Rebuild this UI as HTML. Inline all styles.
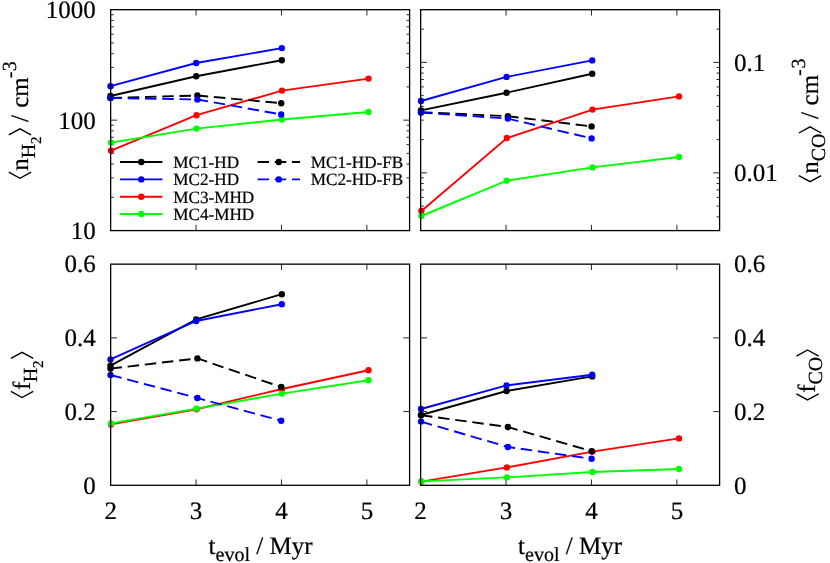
<!DOCTYPE html>
<html><head><meta charset="utf-8"><title>chart</title>
<style>html,body{margin:0;padding:0;background:#fff}svg{display:block}</style>
</head><body>
<svg width="830" height="563" viewBox="0 0 830 563" font-family="Liberation Serif, serif" text-rendering="geometricPrecision" style="will-change:transform">
<style>text{stroke:#000;stroke-width:0.22px}</style>
<rect width="830" height="563" fill="#fff"/>
<path d="M196.06 230.6v-5.8M196.06 9.7v5.8M281.48 230.6v-5.8M281.48 9.7v5.8M366.89 230.6v-5.8M366.89 9.7v5.8M110.65 120.15h6.3M409.6 120.15h-6.3M110.65 197.35h3.1M409.6 197.35h-3.1M110.65 177.90h3.1M409.6 177.90h-3.1M110.65 164.10h3.1M409.6 164.10h-3.1M110.65 153.40h3.1M409.6 153.40h-3.1M110.65 144.65h3.1M409.6 144.65h-3.1M110.65 137.26h3.1M409.6 137.26h-3.1M110.65 130.85h3.1M409.6 130.85h-3.1M110.65 125.20h3.1M409.6 125.20h-3.1M110.65 86.90h3.1M409.6 86.90h-3.1M110.65 67.45h3.1M409.6 67.45h-3.1M110.65 53.65h3.1M409.6 53.65h-3.1M110.65 42.95h3.1M409.6 42.95h-3.1M110.65 34.20h3.1M409.6 34.20h-3.1M110.65 26.81h3.1M409.6 26.81h-3.1M110.65 20.40h3.1M409.6 20.40h-3.1M110.65 14.75h3.1M409.6 14.75h-3.1" fill="none" stroke="#000" stroke-width="0.85"/>
<path d="M506.06 230.6v-5.8M506.06 9.7v5.8M591.48 230.6v-5.8M591.48 9.7v5.8M676.89 230.6v-5.8M676.89 9.7v5.8M420.65 62.40h6.3M719.6 62.40h-6.3M420.65 172.85h6.3M719.6 172.85h-6.3M420.65 29.15h3.1M719.6 29.15h-3.1M420.65 67.45h3.1M719.6 67.45h-3.1M420.65 73.10h3.1M719.6 73.10h-3.1M420.65 79.51h3.1M719.6 79.51h-3.1M420.65 86.90h3.1M719.6 86.90h-3.1M420.65 95.65h3.1M719.6 95.65h-3.1M420.65 106.35h3.1M719.6 106.35h-3.1M420.65 120.15h3.1M719.6 120.15h-3.1M420.65 139.60h3.1M719.6 139.60h-3.1M420.65 177.90h3.1M719.6 177.90h-3.1M420.65 183.55h3.1M719.6 183.55h-3.1M420.65 189.96h3.1M719.6 189.96h-3.1M420.65 197.35h3.1M719.6 197.35h-3.1M420.65 206.10h3.1M719.6 206.10h-3.1M420.65 216.80h3.1M719.6 216.80h-3.1" fill="none" stroke="#000" stroke-width="0.85"/>
<path d="M196.06 485.3v-5.8M196.06 264.15v5.8M281.48 485.3v-5.8M281.48 264.15v5.8M366.89 485.3v-5.8M366.89 264.15v5.8M110.65 411.58h6.3M409.6 411.58h-6.3M110.65 337.87h6.3M409.6 337.87h-6.3" fill="none" stroke="#000" stroke-width="0.85"/>
<path d="M506.06 485.3v-5.8M506.06 264.15v5.8M591.48 485.3v-5.8M591.48 264.15v5.8M676.89 485.3v-5.8M676.89 264.15v5.8M420.65 411.58h6.3M719.6 411.58h-6.3M420.65 337.87h6.3M719.6 337.87h-6.3" fill="none" stroke="#000" stroke-width="0.85"/>
<polyline points="110.5,96.0 196.2,76.2 281.8,60.2" fill="none" stroke="#000" stroke-width="1.9"/>
<circle cx="110.5" cy="96.0" r="3.2" fill="#000"/>
<circle cx="196.2" cy="76.2" r="3.2" fill="#000"/>
<circle cx="281.8" cy="60.2" r="3.2" fill="#000"/>
<polyline points="110.5,86.2 196.2,63.0 281.8,48.1" fill="none" stroke="#00f" stroke-width="1.9"/>
<circle cx="110.5" cy="86.2" r="3.2" fill="#00f"/>
<circle cx="196.2" cy="63.0" r="3.2" fill="#00f"/>
<circle cx="281.8" cy="48.1" r="3.2" fill="#00f"/>
<polyline points="111.0,150.6 196.5,115.2 282.0,90.6 368.5,78.6" fill="none" stroke="#f00" stroke-width="1.9"/>
<circle cx="111.0" cy="150.6" r="3.2" fill="#f00"/>
<circle cx="196.5" cy="115.2" r="3.2" fill="#f00"/>
<circle cx="282.0" cy="90.6" r="3.2" fill="#f00"/>
<circle cx="368.5" cy="78.6" r="3.2" fill="#f00"/>
<polyline points="111.0,142.6 196.5,128.6 282.0,119.5 368.5,112.0" fill="none" stroke="#0f0" stroke-width="1.9"/>
<circle cx="111.0" cy="142.6" r="3.2" fill="#0f0"/>
<circle cx="196.5" cy="128.6" r="3.2" fill="#0f0"/>
<circle cx="282.0" cy="119.5" r="3.2" fill="#0f0"/>
<circle cx="368.5" cy="112.0" r="3.2" fill="#0f0"/>
<polyline points="110.5,97.9 197.4,95.5 281.2,103.2" fill="none" stroke="#000" stroke-width="1.9" stroke-dasharray="11.5 5.75"/>
<circle cx="110.5" cy="97.9" r="3.2" fill="#000"/>
<circle cx="197.4" cy="95.5" r="3.2" fill="#000"/>
<circle cx="281.2" cy="103.2" r="3.2" fill="#000"/>
<polyline points="110.5,97.9 197.4,99.5 281.2,114.4" fill="none" stroke="#00f" stroke-width="1.9" stroke-dasharray="11.5 5.75"/>
<circle cx="110.5" cy="97.9" r="3.2" fill="#00f"/>
<circle cx="197.4" cy="99.5" r="3.2" fill="#00f"/>
<circle cx="281.2" cy="114.4" r="3.2" fill="#00f"/>
<polyline points="421.0,110.4 506.6,92.7 592.2,73.8" fill="none" stroke="#000" stroke-width="1.9"/>
<circle cx="421.0" cy="110.4" r="3.2" fill="#000"/>
<circle cx="506.6" cy="92.7" r="3.2" fill="#000"/>
<circle cx="592.2" cy="73.8" r="3.2" fill="#000"/>
<polyline points="421.0,101.0 506.6,76.9 592.2,60.4" fill="none" stroke="#00f" stroke-width="1.9"/>
<circle cx="421.0" cy="101.0" r="3.2" fill="#00f"/>
<circle cx="506.6" cy="76.9" r="3.2" fill="#00f"/>
<circle cx="592.2" cy="60.4" r="3.2" fill="#00f"/>
<polyline points="421.4,211.0 506.9,138.0 592.5,109.6 679.0,96.4" fill="none" stroke="#f00" stroke-width="1.9"/>
<circle cx="421.4" cy="211.0" r="3.2" fill="#f00"/>
<circle cx="506.9" cy="138.0" r="3.2" fill="#f00"/>
<circle cx="592.5" cy="109.6" r="3.2" fill="#f00"/>
<circle cx="679.0" cy="96.4" r="3.2" fill="#f00"/>
<polyline points="421.4,216.0 506.9,180.6 592.5,167.4 679.0,157.0" fill="none" stroke="#0f0" stroke-width="1.9"/>
<circle cx="421.4" cy="216.0" r="3.2" fill="#0f0"/>
<circle cx="506.9" cy="180.6" r="3.2" fill="#0f0"/>
<circle cx="592.5" cy="167.4" r="3.2" fill="#0f0"/>
<circle cx="679.0" cy="157.0" r="3.2" fill="#0f0"/>
<polyline points="421.0,112.2 507.9,116.2 591.6,126.4" fill="none" stroke="#000" stroke-width="1.9" stroke-dasharray="11.5 5.75"/>
<circle cx="421.0" cy="112.2" r="3.2" fill="#000"/>
<circle cx="507.9" cy="116.2" r="3.2" fill="#000"/>
<circle cx="591.6" cy="126.4" r="3.2" fill="#000"/>
<polyline points="421.0,112.6 507.9,118.6 591.6,138.4" fill="none" stroke="#00f" stroke-width="1.9" stroke-dasharray="11.5 5.75"/>
<circle cx="421.0" cy="112.6" r="3.2" fill="#00f"/>
<circle cx="507.9" cy="118.6" r="3.2" fill="#00f"/>
<circle cx="591.6" cy="138.4" r="3.2" fill="#00f"/>
<polyline points="110.5,365.6 196.2,319.4 281.8,294.2" fill="none" stroke="#000" stroke-width="1.9"/>
<circle cx="110.5" cy="365.6" r="3.2" fill="#000"/>
<circle cx="196.2" cy="319.4" r="3.2" fill="#000"/>
<circle cx="281.8" cy="294.2" r="3.2" fill="#000"/>
<polyline points="110.5,359.4 196.2,321.0 281.8,304.2" fill="none" stroke="#00f" stroke-width="1.9"/>
<circle cx="110.5" cy="359.4" r="3.2" fill="#00f"/>
<circle cx="196.2" cy="321.0" r="3.2" fill="#00f"/>
<circle cx="281.8" cy="304.2" r="3.2" fill="#00f"/>
<polyline points="111.0,424.4 196.5,409.2 282.0,389.0 368.5,370.2" fill="none" stroke="#f00" stroke-width="1.9"/>
<circle cx="111.0" cy="424.4" r="3.2" fill="#f00"/>
<circle cx="196.5" cy="409.2" r="3.2" fill="#f00"/>
<circle cx="282.0" cy="389.0" r="3.2" fill="#f00"/>
<circle cx="368.5" cy="370.2" r="3.2" fill="#f00"/>
<polyline points="111.0,423.4 196.5,408.6 282.0,393.6 368.5,380.2" fill="none" stroke="#0f0" stroke-width="1.9"/>
<circle cx="111.0" cy="423.4" r="3.2" fill="#0f0"/>
<circle cx="196.5" cy="408.6" r="3.2" fill="#0f0"/>
<circle cx="282.0" cy="393.6" r="3.2" fill="#0f0"/>
<circle cx="368.5" cy="380.2" r="3.2" fill="#0f0"/>
<polyline points="110.5,368.6 197.4,358.4 281.2,387.0" fill="none" stroke="#000" stroke-width="1.9" stroke-dasharray="11.5 5.75"/>
<circle cx="110.5" cy="368.6" r="3.2" fill="#000"/>
<circle cx="197.4" cy="358.4" r="3.2" fill="#000"/>
<circle cx="281.2" cy="387.0" r="3.2" fill="#000"/>
<polyline points="110.5,375.0 197.4,398.0 281.2,420.8" fill="none" stroke="#00f" stroke-width="1.9" stroke-dasharray="11.5 5.75"/>
<circle cx="110.5" cy="375.0" r="3.2" fill="#00f"/>
<circle cx="197.4" cy="398.0" r="3.2" fill="#00f"/>
<circle cx="281.2" cy="420.8" r="3.2" fill="#00f"/>
<polyline points="421.0,415.0 506.6,391.0 592.2,376.4" fill="none" stroke="#000" stroke-width="1.9"/>
<circle cx="421.0" cy="415.0" r="3.2" fill="#000"/>
<circle cx="506.6" cy="391.0" r="3.2" fill="#000"/>
<circle cx="592.2" cy="376.4" r="3.2" fill="#000"/>
<polyline points="421.0,409.0 506.6,385.4 592.2,374.8" fill="none" stroke="#00f" stroke-width="1.9"/>
<circle cx="421.0" cy="409.0" r="3.2" fill="#00f"/>
<circle cx="506.6" cy="385.4" r="3.2" fill="#00f"/>
<circle cx="592.2" cy="374.8" r="3.2" fill="#00f"/>
<polyline points="421.4,481.6 506.9,467.4 592.5,451.6 679.0,438.4" fill="none" stroke="#f00" stroke-width="1.9"/>
<circle cx="421.4" cy="481.6" r="3.2" fill="#f00"/>
<circle cx="506.9" cy="467.4" r="3.2" fill="#f00"/>
<circle cx="592.5" cy="451.6" r="3.2" fill="#f00"/>
<circle cx="679.0" cy="438.4" r="3.2" fill="#f00"/>
<polyline points="421.4,481.4 506.9,477.4 592.5,472.0 679.0,469.0" fill="none" stroke="#0f0" stroke-width="1.9"/>
<circle cx="421.4" cy="481.4" r="3.2" fill="#0f0"/>
<circle cx="506.9" cy="477.4" r="3.2" fill="#0f0"/>
<circle cx="592.5" cy="472.0" r="3.2" fill="#0f0"/>
<circle cx="679.0" cy="469.0" r="3.2" fill="#0f0"/>
<polyline points="421.0,415.2 507.9,427.0 591.6,451.2" fill="none" stroke="#000" stroke-width="1.9" stroke-dasharray="11.5 5.75"/>
<circle cx="421.0" cy="415.2" r="3.2" fill="#000"/>
<circle cx="507.9" cy="427.0" r="3.2" fill="#000"/>
<circle cx="591.6" cy="451.2" r="3.2" fill="#000"/>
<polyline points="421.0,421.6 507.9,447.0 591.6,458.8" fill="none" stroke="#00f" stroke-width="1.9" stroke-dasharray="11.5 5.75"/>
<circle cx="421.0" cy="421.6" r="3.2" fill="#00f"/>
<circle cx="507.9" cy="447.0" r="3.2" fill="#00f"/>
<circle cx="591.6" cy="458.8" r="3.2" fill="#00f"/>
<rect x="110.65" y="9.7" width="298.95" height="220.90" fill="none" stroke="#000" stroke-width="1.3"/>
<rect x="420.65" y="9.7" width="298.95" height="220.90" fill="none" stroke="#000" stroke-width="1.3"/>
<rect x="110.65" y="264.15" width="298.95" height="221.15" fill="none" stroke="#000" stroke-width="1.3"/>
<rect x="420.65" y="264.15" width="298.95" height="221.15" fill="none" stroke="#000" stroke-width="1.3"/>
<path d="M120 162.0H162.4" stroke="#000" stroke-width="1.9"/>
<circle cx="141.3" cy="162.0" r="3.2" fill="#000"/>
<text x="173.3" y="168.0" font-size="17.15">MC1-HD</text>
<path d="M120 179.4H162.4" stroke="#00f" stroke-width="1.9"/>
<circle cx="141.3" cy="179.4" r="3.2" fill="#00f"/>
<text x="173.3" y="185.4" font-size="17.15">MC2-HD</text>
<path d="M120 196.7H162.4" stroke="#f00" stroke-width="1.9"/>
<circle cx="141.3" cy="196.7" r="3.2" fill="#f00"/>
<text x="173.3" y="202.7" font-size="17.15">MC3-MHD</text>
<path d="M120 214.0H162.4" stroke="#0f0" stroke-width="1.9"/>
<circle cx="141.3" cy="214.0" r="3.2" fill="#0f0"/>
<text x="173.3" y="220.0" font-size="17.15">MC4-MHD</text>
<path d="M257.5 162.0H300" stroke="#000" stroke-width="1.9" stroke-dasharray="11.5 5.75"/>
<circle cx="278.8" cy="162.0" r="3.2" fill="#000"/>
<text x="310.8" y="168.0" font-size="17.15">MC1-HD-FB</text>
<path d="M257.5 179.4H300" stroke="#00f" stroke-width="1.9" stroke-dasharray="11.5 5.75"/>
<circle cx="278.8" cy="179.4" r="3.2" fill="#00f"/>
<text x="310.8" y="185.4" font-size="17.15">MC2-HD-FB</text>
<text x="95.8" y="18.0" font-size="25" text-anchor="end">1000</text>
<text x="95.8" y="128.5" font-size="25" text-anchor="end">100</text>
<text x="95.8" y="238.9" font-size="25" text-anchor="end">10</text>
<text x="95.8" y="272.4" font-size="25" text-anchor="end">0.6</text>
<text x="734" y="272.4" font-size="25" text-anchor="start">0.6</text>
<text x="95.8" y="346.2" font-size="25" text-anchor="end">0.4</text>
<text x="734" y="346.2" font-size="25" text-anchor="start">0.4</text>
<text x="95.8" y="419.9" font-size="25" text-anchor="end">0.2</text>
<text x="734" y="419.9" font-size="25" text-anchor="start">0.2</text>
<text x="95.8" y="493.6" font-size="25" text-anchor="end">0</text>
<text x="734" y="493.6" font-size="25" text-anchor="start">0</text>
<text x="734" y="70.7" font-size="25" text-anchor="start">0.1</text>
<text x="734" y="181.1" font-size="25" text-anchor="start">0.01</text>
<text x="110.7" y="519.0" font-size="25" text-anchor="middle">2</text>
<text x="420.6" y="519.0" font-size="25" text-anchor="middle">2</text>
<text x="196.1" y="519.0" font-size="25" text-anchor="middle">3</text>
<text x="506.1" y="519.0" font-size="25" text-anchor="middle">3</text>
<text x="281.5" y="519.0" font-size="25" text-anchor="middle">4</text>
<text x="591.5" y="519.0" font-size="25" text-anchor="middle">4</text>
<text x="366.9" y="519.0" font-size="25" text-anchor="middle">5</text>
<text x="676.9" y="519.0" font-size="25" text-anchor="middle">5</text>
<text y="554" font-size="25"><tspan x="208.6">t</tspan><tspan font-size="20" dy="7">evol</tspan><tspan dy="-7"> / Myr</tspan></text>
<text y="554" font-size="25"><tspan x="518.1">t</tspan><tspan font-size="20" dy="7">evol</tspan><tspan dy="-7"> / Myr</tspan></text>
<g transform="translate(27.8,178.6) rotate(-90)">
<path d="M6.40 -19.0L0.30 -7.85L6.40 3.3" fill="none" stroke="#000" stroke-width="1.4" stroke-linejoin="miter"/>
<text x="7.80" y="0" font-size="25">n</text>
<text x="20.30" y="7" font-size="20">H</text>
<text x="34.60" y="13.4" font-size="15">2</text>
<path d="M43.70 -19.0L49.80 -7.85L43.70 3.3" fill="none" stroke="#000" stroke-width="1.4" stroke-linejoin="miter"/>
<text x="56.60" y="0" font-size="25">/</text>
<text x="70.80" y="0" font-size="25">cm</text>
<text x="100.30" y="-12.2" font-size="20">-</text>
<text x="107.30" y="-12.2" font-size="20">3</text>
</g>
<g transform="translate(817.9,182.0) rotate(-90)">
<path d="M6.40 -19.0L0.30 -7.85L6.40 3.3" fill="none" stroke="#000" stroke-width="1.4" stroke-linejoin="miter"/>
<text x="8.20" y="0" font-size="25">n</text>
<text x="20.70" y="7" font-size="20">CO</text>
<path d="M49.00 -19.0L55.10 -7.85L49.00 3.3" fill="none" stroke="#000" stroke-width="1.4" stroke-linejoin="miter"/>
<text x="63.00" y="0" font-size="25">/</text>
<text x="76.60" y="0" font-size="25">cm</text>
<text x="106.00" y="-13.0" font-size="20">-</text>
<text x="113.40" y="-13.0" font-size="20">3</text>
</g>
<g transform="translate(29.9,397.8) rotate(-90)">
<path d="M6.40 -19.0L0.30 -7.85L6.40 3.3" fill="none" stroke="#000" stroke-width="1.4" stroke-linejoin="miter"/>
<text x="7.70" y="0" font-size="25">f</text>
<text x="15.50" y="7" font-size="20">H</text>
<text x="29.80" y="13.4" font-size="15">2</text>
<path d="M39.40 -19.0L45.50 -7.85L39.40 3.3" fill="none" stroke="#000" stroke-width="1.4" stroke-linejoin="miter"/>
</g>
<g transform="translate(815.4,400.2) rotate(-90)">
<path d="M6.40 -19.0L0.30 -7.85L6.40 3.3" fill="none" stroke="#000" stroke-width="1.4" stroke-linejoin="miter"/>
<text x="7.40" y="0" font-size="25">f</text>
<text x="15.70" y="7" font-size="20">CO</text>
<path d="M44.10 -19.0L50.20 -7.85L44.10 3.3" fill="none" stroke="#000" stroke-width="1.4" stroke-linejoin="miter"/>
</g>
</svg>
</body></html>
